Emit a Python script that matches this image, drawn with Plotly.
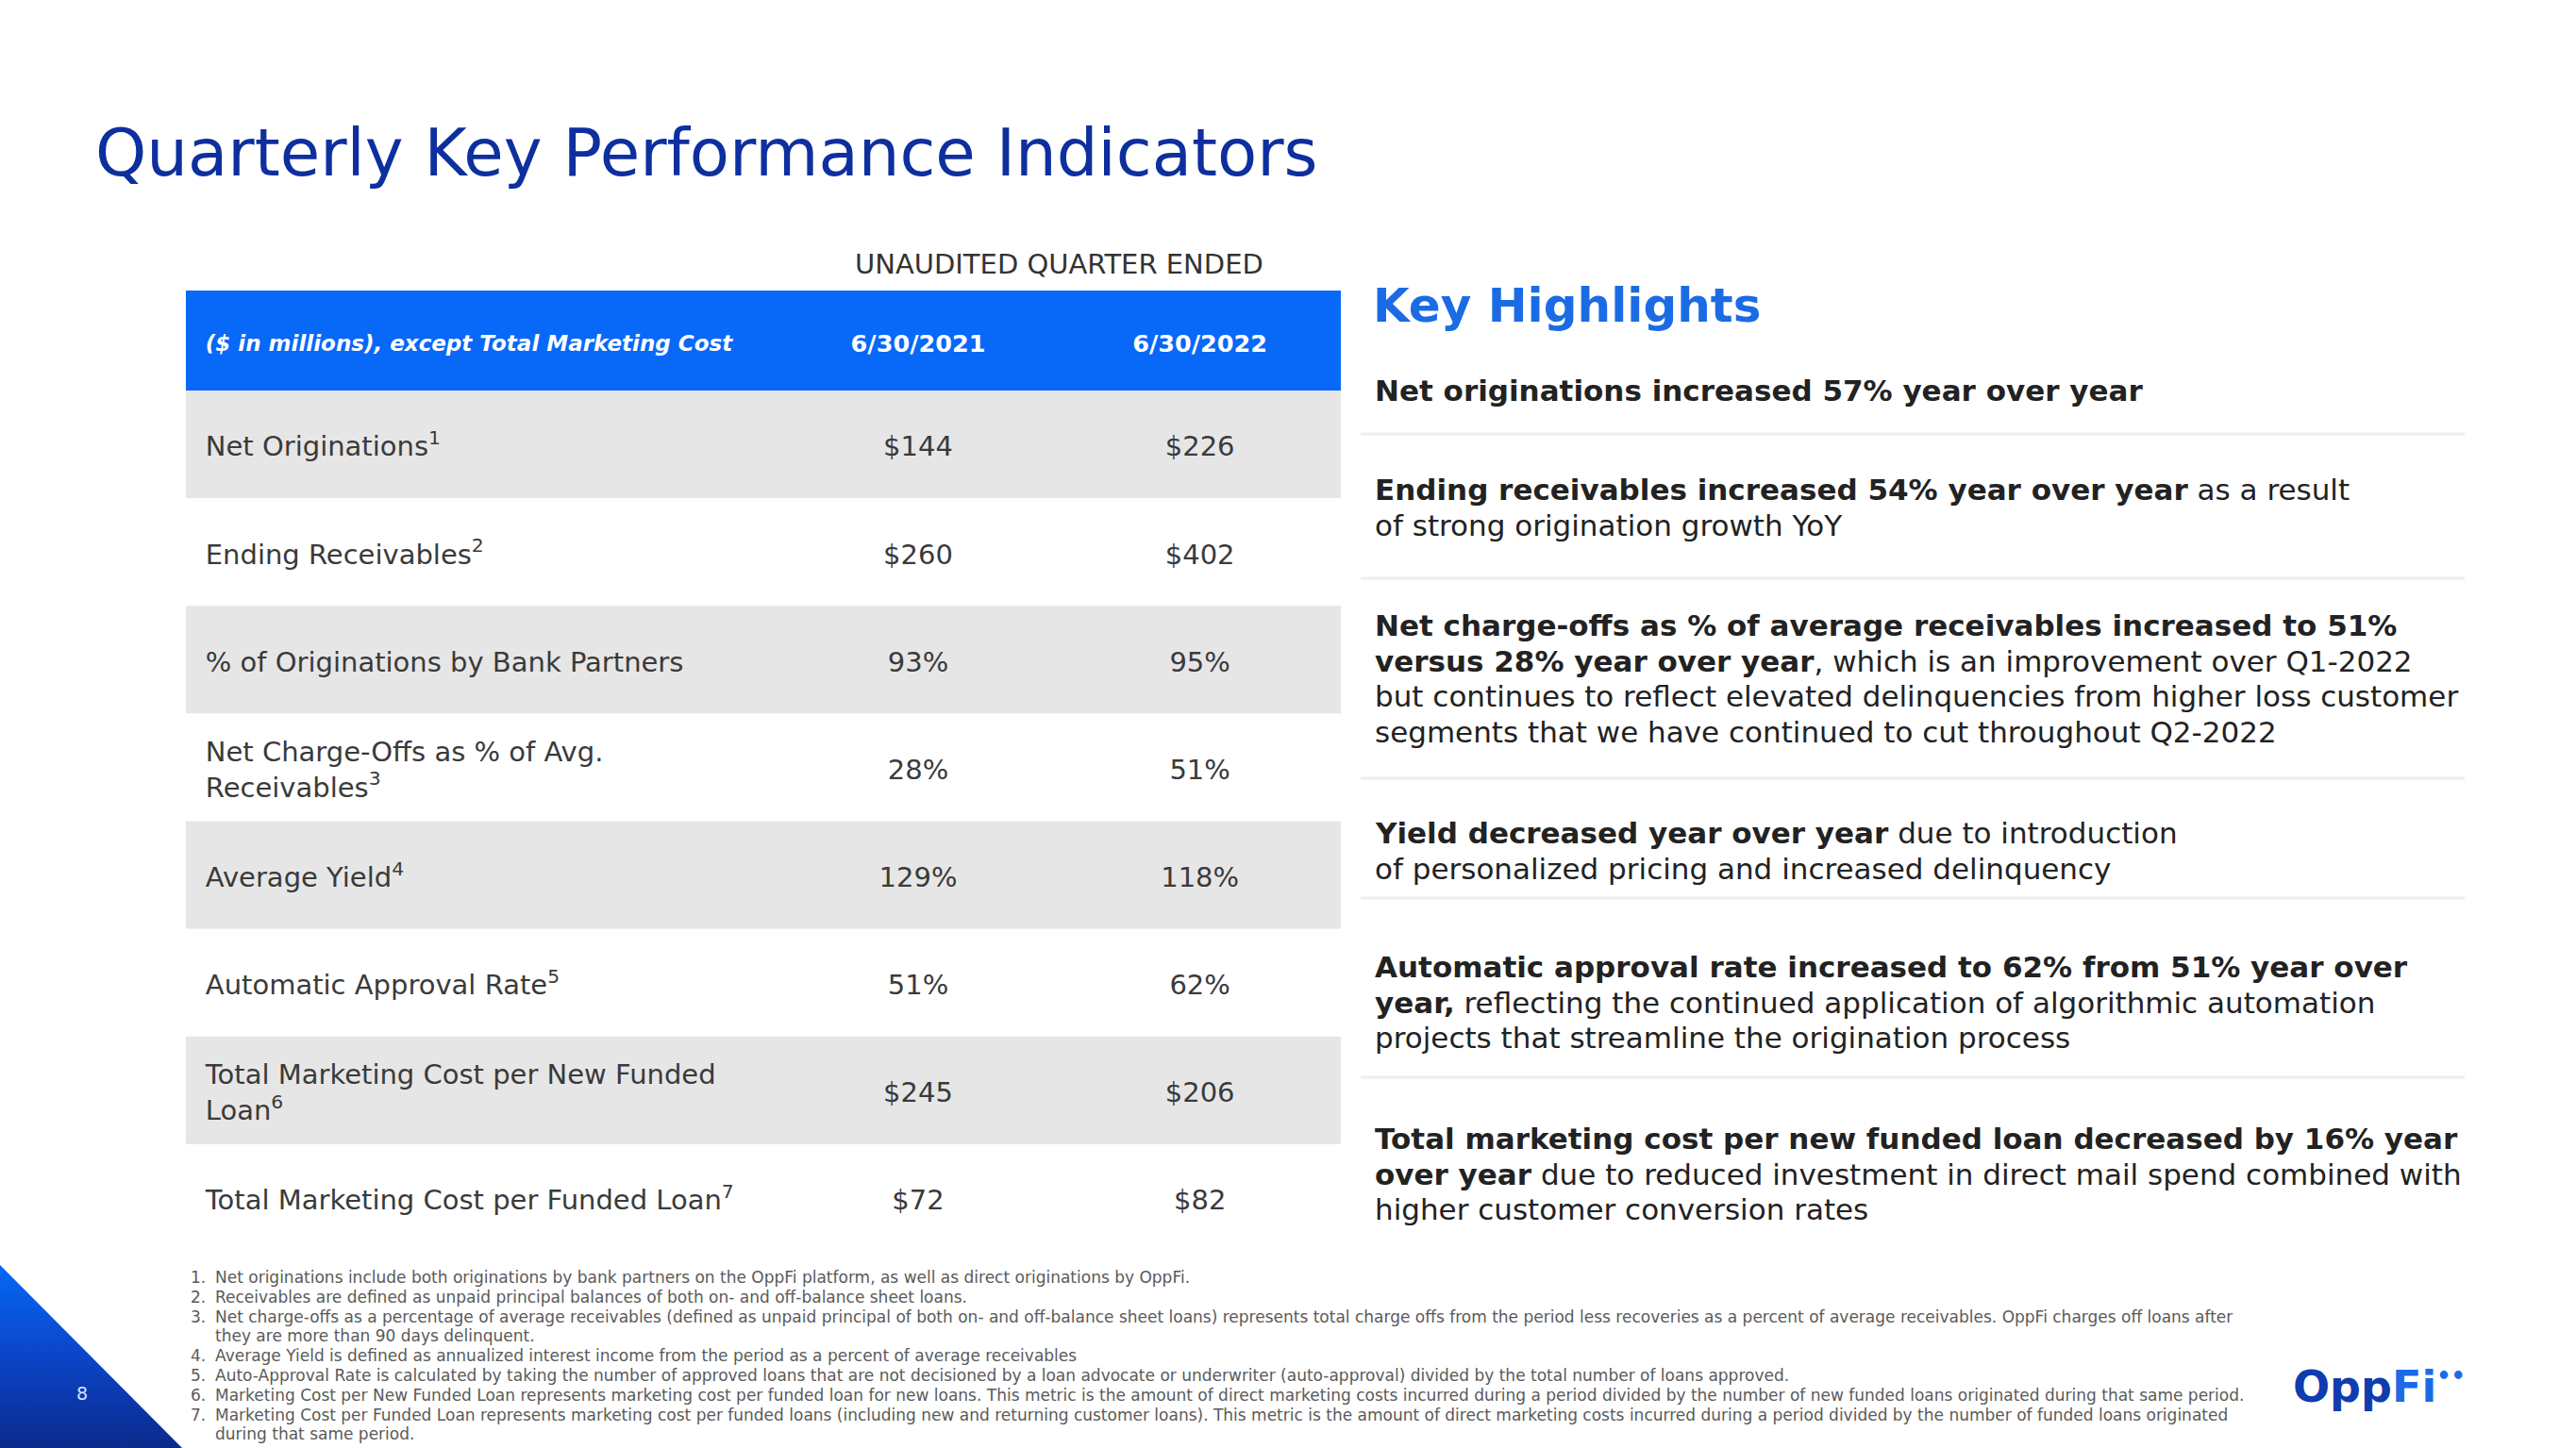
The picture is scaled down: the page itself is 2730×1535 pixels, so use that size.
import plotly.graph_objects as go

W, H = 2730, 1535
FONT = "DejaVu Sans"

# ------------------------------------------------------------------ data
TITLE = "Quarterly Key Performance Indicators"
CAPTION = "UNAUDITED QUARTER ENDED"
HEADER_LABEL = "($ in millions), except Total Marketing Cost"
PERIODS = ["6/30/2021", "6/30/2022"]
METRICS = [
    "Net Originations<sup>1</sup>",
    "Ending Receivables<sup>2</sup>",
    "% of Originations by Bank Partners",
    "Net Charge-Offs as % of Avg.<br>Receivables<sup>3</sup>",
    "Average Yield<sup>4</sup>",
    "Automatic Approval Rate<sup>5</sup>",
    "Total Marketing Cost per New Funded<br>Loan<sup>6</sup>",
    "Total Marketing Cost per Funded Loan<sup>7</sup>",
]
VALUES_2021 = ["$144", "$260", "93%", "28%", "129%", "51%", "$245", "$72"]
VALUES_2022 = ["$226", "$402", "95%", "51%", "118%", "62%", "$206", "$82"]

HIGHLIGHTS_TITLE = "Key Highlights"
HIGHLIGHTS = [
    ["<b>Net originations increased 57% year over year</b>"],
    ["<b>Ending receivables increased 54% year over year</b> as a result",
     "of strong origination growth YoY"],
    ["<b>Net charge-offs as % of average receivables increased to 51%</b>",
     "<b>versus 28% year over year</b>, which is an improvement over Q1-2022",
     "but continues to reflect elevated delinquencies from higher loss customer",
     "segments that we have continued to cut throughout Q2-2022"],
    ["<b>Yield decreased year over year</b> due to introduction",
     "of personalized pricing and increased delinquency"],
    ["<b>Automatic approval rate increased to 62% from 51% year over</b>",
     "<b>year,</b> reflecting the continued application of algorithmic automation",
     "projects that streamline the origination process"],
    ["<b>Total marketing cost per new funded loan decreased by 16% year</b>",
     "<b>over year</b> due to reduced investment in direct mail spend combined with",
     "higher customer conversion rates"],
]

FOOTNOTE_NUMBERS = ["1.", "2.", "3.", "", "4.", "5.", "6.", "7.", ""]
FOOTNOTE_LINES = [
    "Net originations include both originations by bank partners on the OppFi platform, as well as direct originations by OppFi.",
    "Receivables are defined as unpaid principal balances of both on- and off-balance sheet loans.",
    "Net charge-offs as a percentage of average receivables (defined as unpaid principal of both on- and off-balance sheet loans) represents total charge offs from the period less recoveries as a percent of average receivables. OppFi charges off loans after",
    "they are more than 90 days delinquent.",
    "Average Yield is defined as annualized interest income from the period as a percent of average receivables",
    "Auto-Approval Rate is calculated by taking the number of approved loans that are not decisioned by a loan advocate or underwriter (auto-approval) divided by the total number of loans approved.",
    "Marketing Cost per New Funded Loan represents marketing cost per funded loan for new loans. This metric is the amount of direct marketing costs incurred during a period divided by the number of new funded loans originated during that same period.",
    "Marketing Cost per Funded Loan represents marketing cost per funded loans (including new and returning customer loans). This metric is the amount of direct marketing costs incurred during a period divided by the number of funded loans originated",
    "during that same period.",
]
PAGE_NUMBER = "8"
LOGO_DARK, LOGO_LIGHT = "Opp", "Fi"

# ------------------------------------------------------------------ styles / positions
NAVY = "#0E2F9E"
HEADER_BLUE = "#0868F8"
KEY_BLUE = "#1B6CE4"
ROW_GRAY = "#E7E6E6"
TEXT = "#3A3A3A"
DARK = "#222222"
FOOT = "#5A5A5A"

TABLE_L, TABLE_R, TABLE_T, TABLE_B = 197, 1421, 308, 1327
HEADER_VISIBLE = 0.929          # header visible height in row units
TEXT_DY = 0.045                 # small downward nudge of cell text (row units)
LABEL_X, COL1_X, COL2_X = 0.017, 0.634, 0.878

HL_X = 1455
HL_FIRST_Y = [414, 519, 663, 883, 1025, 1207]
HL_STEP = 37.6
SEP_Y = [460, 613, 825, 952, 1142]
SEP_X0, SEP_X1 = 1442, 2612

FN_NUM_X, FN_TXT_X, FN_Y0, FN_STEP, FN_SIZE = 200, 226, 1354, 20.8, 17


def px(x):
    return x / W


def py(y):
    return 1 - y / H


fig = go.Figure()

# ------------------------------------------------------------------ table (cartesian)
n = len(METRICS)
rows = list(range(1, n + 1))
text_rows = [r + TEXT_DY for r in rows]
fills = [HEADER_BLUE] + [ROW_GRAY if i % 2 == 0 else "#FFFFFF" for i in range(n)]
fig.add_trace(go.Bar(
    orientation="h", y=[0] + rows, x=[1] * (n + 1), base=0, width=1,
    marker=dict(color=fills, line=dict(width=0)),
    hoverinfo="skip", showlegend=False, xaxis="x", yaxis="y",
))

header_y = 0.5 - HEADER_VISIBLE / 2 + TEXT_DY
fig.add_trace(go.Scatter(
    x=[LABEL_X, COL1_X, COL2_X], y=[header_y] * 3, mode="text",
    text=["<b><i>" + HEADER_LABEL + "</i></b>"] + ["<b>" + p + "</b>" for p in PERIODS],
    textposition=["middle right", "middle center", "middle center"],
    textfont=dict(family=FONT, size=[23, 25.5, 25.5], color="#FFFFFF"),
    hoverinfo="skip", showlegend=False, xaxis="x", yaxis="y",
))
fig.add_trace(go.Scatter(
    x=[LABEL_X] * n, y=text_rows, mode="text", text=METRICS,
    textposition="middle right",
    textfont=dict(family=FONT, size=29, color=TEXT),
    hoverinfo="skip", showlegend=False, xaxis="x", yaxis="y",
))
for cx, vals in ((COL1_X, VALUES_2021), (COL2_X, VALUES_2022)):
    fig.add_trace(go.Scatter(
        x=[cx] * n, y=text_rows, mode="text", text=vals,
        textposition="middle center",
        textfont=dict(family=FONT, size=29, color=TEXT),
        hoverinfo="skip", showlegend=False, xaxis="x", yaxis="y",
    ))

# ------------------------------------------------------------------ corner triangle (decor)
fig.add_trace(go.Scatter(
    x=[0, 193, 0, 0], y=[H - 1341, 0, 0, H - 1341], mode="none", fill="toself",
    fillgradient=dict(type="vertical",
                      colorscale=[[0, "#0A2A8C"], [0.5, "#0B45C8"], [1, "#0668F6"]]),
    hoverinfo="skip", showlegend=False, xaxis="x2", yaxis="y2",
))

ann = []
# title
ann.append(dict(x=px(99), y=py(162), text=TITLE, xanchor="left", yanchor="middle",
                font=dict(family=FONT, size=69, color=NAVY)))
# table caption
ann.append(dict(x=px(1122), y=py(280), text=CAPTION, xanchor="center", yanchor="middle",
                font=dict(family=FONT, size=29, color="#333333")))
# key highlights
ann.append(dict(x=px(HL_X - 2), y=py(324), text="<b>" + HIGHLIGHTS_TITLE + "</b>",
                xanchor="left", yanchor="middle",
                font=dict(family=FONT, size=50, color=KEY_BLUE)))
for y0, block in zip(HL_FIRST_Y, HIGHLIGHTS):
    for i, line in enumerate(block):
        ann.append(dict(x=px(HL_X), y=py(y0 + i * HL_STEP), text=line,
                        xanchor="left", yanchor="middle",
                        font=dict(family=FONT, size=31, color=DARK)))
# footnotes
for i, (num, line) in enumerate(zip(FOOTNOTE_NUMBERS, FOOTNOTE_LINES)):
    y = py(FN_Y0 + i * FN_STEP)
    if num:
        ann.append(dict(x=px(FN_NUM_X), y=y, text=num, xanchor="left", yanchor="middle",
                        font=dict(family=FONT, size=FN_SIZE, color=FOOT)))
    ann.append(dict(x=px(FN_TXT_X), y=y, text=line, xanchor="left", yanchor="middle",
                    font=dict(family=FONT, size=FN_SIZE, color=FOOT)))
# logo (single text, dots as superscript)
ann.append(dict(x=px(2428), y=py(1470),
                text="<b><span style='color:#0F3CAE'>" + LOGO_DARK +
                     "</span><span style='color:#1B6AE6'>" + LOGO_LIGHT +
                     "</span><sup><span style='color:#1B6AE6;font-size:24px'>••</span></sup></b>",
                xanchor="left", yanchor="middle", font=dict(family=FONT, size=46)))
# page number
ann.append(dict(x=px(87), y=py(1477), text=PAGE_NUMBER, xanchor="center", yanchor="middle",
                font=dict(family=FONT, size=19, color="#D5E3FF")))

for a in ann:
    a.update(xref="paper", yref="paper", showarrow=False)

shapes = [dict(type="line", xref="paper", yref="paper",
               x0=px(SEP_X0), x1=px(SEP_X1), y0=py(y), y1=py(y),
               line=dict(color="#EEEEEE", width=3)) for y in SEP_Y]

fig.update_layout(
    width=W, height=H, margin=dict(l=0, r=0, t=0, b=0),
    paper_bgcolor="#FFFFFF", plot_bgcolor="rgba(0,0,0,0)",
    showlegend=False, annotations=ann, shapes=shapes,
    xaxis=dict(domain=[px(TABLE_L), px(TABLE_R)], range=[0, 1], visible=False,
               fixedrange=True, anchor="y"),
    yaxis=dict(domain=[py(TABLE_B), py(TABLE_T)],
               range=[n + 0.5, 0.5 - HEADER_VISIBLE], visible=False,
               fixedrange=True, anchor="x"),
    xaxis2=dict(domain=[0, 1], range=[0, W], visible=False, fixedrange=True, anchor="y2"),
    yaxis2=dict(domain=[0, 1], range=[0, H], visible=False, fixedrange=True, anchor="x2"),
)

fig.write_html("out.html", config={"displayModeBar": False},
               post_script="document.body.style.margin='0';")
